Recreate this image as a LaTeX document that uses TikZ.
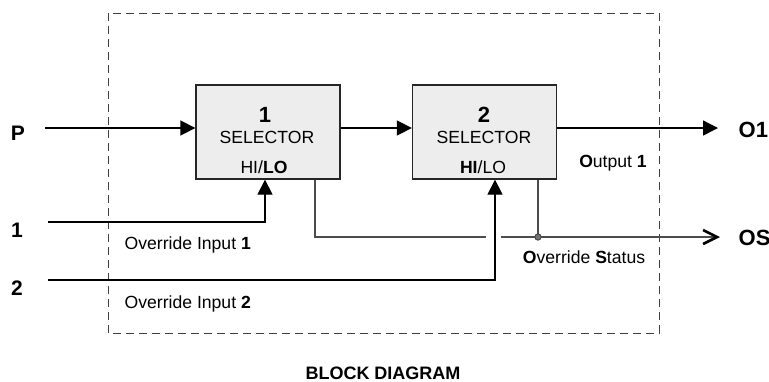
\documentclass[tikz,border=0pt]{standalone}
\usepackage{fontspec}
\setmainfont{Liberation Sans}
\usetikzlibrary{arrows.meta}

\begin{document}
\begin{tikzpicture}[x=0.5pt,y=-0.5pt,line width=0.65pt,
  tri/.style={-{Triangle[length=7.5pt,width=7.5pt]}},
  barb/.style={-{Straight Barb[length=7pt,width=7pt,line width=1.3pt,color=black]}},
  selbox/.style={draw=black!85,fill=black!7,minimum width=72pt,minimum height=47pt,inner sep=0pt},
  txt/.style={font=\fontsize{8.8}{10}\selectfont,inner sep=0pt,anchor=base},
  term/.style={font=\fontsize{10.5}{12}\selectfont\bfseries,inner sep=0pt,anchor=base}]

\useasboundingbox (0,0) rectangle (769,381);

% ------------------------------------------------------------------
% Dashed frame round the function block
% ------------------------------------------------------------------
\draw[black!75,line width=0.5pt,dash pattern=on 4pt off 2.5pt] (108,13) rectangle (659,333);

% ------------------------------------------------------------------
% The two selectors
% ------------------------------------------------------------------
\node[selbox] (sel1) at (268,132) {};
\node[selbox] (sel2) at (484.5,132) {};

\node[term,font=\fontsize{11}{12}\selectfont\bfseries] (num1) at (265,122) {1};
\node[txt] (type1) at (267,143) {SELECTOR};
\node[txt] (mode1) at (264,173) {HI/\textbf{LO}};

\node[term,font=\fontsize{11}{12}\selectfont\bfseries] (num2) at (484,122) {2};
\node[txt] (type2) at (484,143) {SELECTOR};
\node[txt] (mode2) at (483,173) {\textbf{HI}/LO};

% ------------------------------------------------------------------
% Terminals outside the frame
% ------------------------------------------------------------------
\node[term] (P)  at (18,140) {P};
\node[term] (I1) at (17,237) {1};
\node[term] (I2) at (17,295) {2};
\node[term,font=\fontsize{11}{12}\selectfont\bfseries,anchor=base west] (O1) at (738,137) {O1};
\node[term,font=\fontsize{11}{12}\selectfont\bfseries,anchor=base west] (OS) at (738,245) {OS};

\coordinate (pin)   at (45,128);
\coordinate (in1)   at (48,222);
\coordinate (in2)   at (48,280);
\coordinate (o1end) at (718,128);
\coordinate (osend) at (720,237);
\coordinate (tap1)  at ([xshift=23.5pt]sel1.south);
\coordinate (tap2)  at ([xshift=26.75pt]sel2.south);
\coordinate (jct)   at (tap2 |- osend);

% ------------------------------------------------------------------
% Main signal path
% ------------------------------------------------------------------
\draw[tri] (pin) -- (pin -| sel1.west);
\draw[tri] (pin -| sel1.east) -- (pin -| sel2.west);
\draw[tri] (pin -| sel2.east) -- (o1end);

% ------------------------------------------------------------------
% Override inputs
% ------------------------------------------------------------------
\draw[tri] (in1) -| ([xshift=-1.5pt]sel1.south);
\draw[tri] (in2) -| ([xshift=5.25pt]sel2.south);

% ------------------------------------------------------------------
% Override status (jumps over input 2)
% ------------------------------------------------------------------
\draw[black!70] (tap1) |- (486,237);
\draw[black!70,barb] (501,237) -- (osend);
\draw[black!70] (tap2) -- (jct);
\fill[black!55,draw=black!75,line width=0.4pt] (jct) circle (1.6pt);

% ------------------------------------------------------------------
% Signal names
% ------------------------------------------------------------------
\node[txt,anchor=base west] (ovr1) at (124,249) {Override Input \textbf{1}};
\node[txt,anchor=base west] (ovr2) at (124,308) {Override Input \textbf{2}};
\node[txt] (out1) at (613,167) {\textbf{O}utput \textbf{1}};
\node[txt] (stat) at (584,263) {\textbf{O}verride \textbf{S}tatus};

\node[term,font=\fontsize{9}{10}\selectfont\bfseries] (title) at (383,379) {BLOCK DIAGRAM};

\end{tikzpicture}
\end{document}
